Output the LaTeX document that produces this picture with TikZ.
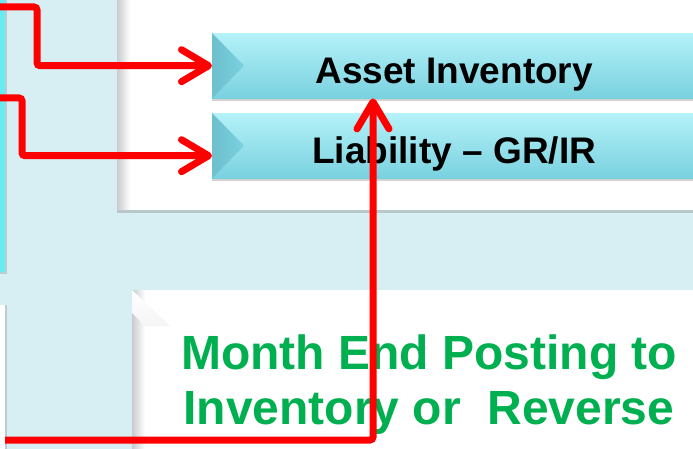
\documentclass[tikz,border=0pt]{standalone}
\usepackage{fontspec}
\usepackage{tikz}
\usetikzlibrary{positioning,arrows.meta,shadows}
\setmainfont{Liberation Sans}
\definecolor{SlideBack}{HTML}{D7EFF3}
\definecolor{StripCyan}{HTML}{66ECF3}
\definecolor{BoxTop}{HTML}{B4F2F9}
\definecolor{BoxBottom}{HTML}{79D1DF}
\definecolor{BoxBevel}{HTML}{6FBFCD}
\definecolor{PanelEdge}{HTML}{C9CBCC}
\definecolor{PostGreen}{HTML}{00B050}
\definecolor{ArrowRed}{HTML}{FF0000}

\begin{document}
\begin{tikzpicture}[x=1pt,y=-1pt,
  panel/.style={fill=white,drop shadow={opacity=0.35,shadow xshift=0pt,shadow yshift=-3pt}},
  catbox/.style={top color=BoxTop,bottom color=BoxBottom,minimum width=486pt,minimum height=65pt,anchor=north west,inner sep=0pt,text height=35pt,text depth=0pt,font=\bfseries\fontsize{37}{42}\selectfont,drop shadow={opacity=0.35,shadow xshift=0pt,shadow yshift=-3pt}},
  redarrow/.style={draw=ArrowRed,line width=7pt,rounded corners=3pt,-{Straight Barb[length=27pt,width=32pt,round]}}]
\useasboundingbox (0,0) rectangle (693,449);
\fill[SlideBack] (0,0) rectangle (693,449);
% left strips
\fill[StripCyan,drop shadow={opacity=0.3,shadow xshift=2pt,shadow yshift=-2pt}] (-10,-10) rectangle (5,272);
\fill[white,drop shadow={opacity=0.3,shadow xshift=2pt,shadow yshift=0pt}] (-10,305) rectangle (5,470);
% panels
\fill[panel] (117,-10) rectangle (710,210);
\shade[left color=PanelEdge,right color=white] (117,-10) rectangle (130,210);
\fill[panel] (132,290) rectangle (710,470);
\shade[left color=PanelEdge,right color=white] (132,290) rectangle (145,470);
\shade[top color=white,bottom color=white!92!gray] (132,290) -- (170,326) -- (145,326) -- (132,313) -- cycle;
% boxes
\node[catbox] (asset) at (212,33) {\hspace*{-2pt}Asset Inventory};
\node[catbox] (liab) at (212,113) {\hspace*{-2pt}Liability -- GR/IR};
\foreach \b in {asset,liab}{
  \shade[left color=BoxBevel,right color=BoxBottom] (\b.north west) -- ([xshift=32pt]\b.west) -- (\b.south west) -- cycle;
}
\node[align=center,text=PostGreen,font=\bfseries\fontsize{48}{55}\selectfont] (post) at (429,385) {Month End Posting to\\Inventory or\ \ Reverse};
% connectors
\coordinate (srcA) at (-5,7);
\coordinate (srcB) at (-5,98);
\coordinate (srcC) at (5,440);
\coordinate (turnC) at (373,440);
\draw[redarrow] (srcA) -- (37,7) |- (asset.west);
\draw[redarrow] (srcB) -- (22,98) |- ([yshift=-10pt]liab.west);
\draw[redarrow] (srcC) -- (turnC) -- (turnC |- asset.south);
\end{tikzpicture}
\end{document}
